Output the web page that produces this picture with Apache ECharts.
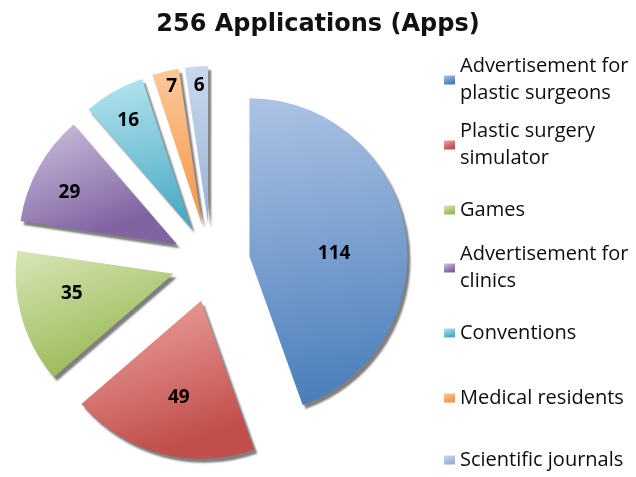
<!DOCTYPE html>
<html lang="en">
<head>
	<meta charset="UTF-8">
	<title>256 Applications (Apps)</title>
	<style>html,body{margin:0;padding:0;background:#fff;}</style>
</head>
<body>

	<div id="main" style="width: 636px;height: 477px"></div>

	<script src="https://cdn.jsdelivr.net/npm/echarts@6/dist/echarts.min.js"></script>
	<script type="text/javascript">

	// data
	var names = ['Advertisement for plastic surgeons', 'Plastic surgery simulator', 'Games',
		'Advertisement for clinics', 'Conventions', 'Medical residents', 'Scientific journals'];
	var legendText = ['Advertisement for\nplastic surgeons', 'Plastic surgery\nsimulator', 'Games',
		'Advertisement for\nclinics', 'Conventions', 'Medical residents', 'Scientific journals'];
	var values = [114, 49, 35, 29, 16, 7, 6];

	// colours (light top -> dark bottom)
	var lightColors = ['#adc3e4', '#eea8a6', '#d9e6b8', '#cfc2de', '#b8e4f0', '#fbc99c', '#cad8ec'];
	var darkColors  = ['#4a7ebb', '#c24f4b', '#9bbb59', '#8064a2', '#4bacc6', '#f79646', '#95b3d7'];

	// layout helpers
	var legendLineY = [80, 145, 210, 268, 333, 398, 460];   // y of first text line of each legend item
	var labelPush = [6, 25, 26, 44, 53, 71, 67];             // extra outward shift of value labels
	var labelNudgeX = [0, 7, 4, 5, 5, 7, 4];
	var labelNudgeY = [16, -3, -6, 13, 13, 14, 14];
	var font = 'Open Sans';
	var LH = 27;

	var total = 0;
	for (var i = 0; i < values.length; i++) total += values[i];
	var mid = [];
	var acc = 0;
	for (var i = 0; i < values.length; i++) {
		mid.push((acc + values[i] / 2) / total * Math.PI * 2);
		acc += values[i];
	}

	var legends = [];
	for (var i = 0; i < names.length; i++) {
		var lines = legendText[i].split('\n').length;
		var pad = (lines - 1) * LH;
		var boxH = lines * LH + pad;
		legends.push({
			orient: 'vertical',
			left: 444,
			top: legendLineY[i] - boxH / 2,
			padding: 0,
			itemWidth: 11,
			itemHeight: 9,
			icon: 'rect',
			selectedMode: false,
			data: [names[i]],
			formatter: (function (t) { return function () { return t; }; })(legendText[i]),
			textStyle: { fontFamily: font, fontSize: 20, color: '#0d0d0d', lineHeight: LH, padding: [pad, 0, 0, 0] }
		});
	}

	var pieData = [];
	for (var i = 0; i < values.length; i++) {
		pieData.push({
			name: names[i],
			value: values[i],
			selected: true,
			itemStyle: {
				color: {
					type: 'linear', x: 0, y: 0, x2: 0.3, y2: 1,
					colorStops: [{ offset: 0, color: lightColors[i] }, { offset: 1, color: darkColors[i] }]
				}
			}
		});
	}

	var myChart = echarts.init(document.getElementById('main'));

	var option = {
		animation: false,
		title: {
			text: '256 Applications (Apps)',
			left: 'center',
			top: 8,
			textStyle: { fontFamily: 'DejaVu Sans', fontSize: 24, fontWeight: 'bold', color: '#111' }
		},
		legend: legends,
		series: [{
			type: 'pie',
			center: [211, 263],
			radius: [0, 158],
			startAngle: 90,
			clockwise: true,
			selectedMode: 'multiple',
			selectedOffset: 39,
			avoidLabelOverlap: false,
			label: {
				show: true,
				position: 'inside',
				formatter: '{c}',
				fontFamily: font,
				fontSize: 19,
				fontWeight: 'bold',
				color: '#000'
			},
			labelLine: { show: false },
			labelLayout: function (p) {
				var k = p.dataIndex;
				return {
					dx: labelPush[k] * Math.sin(mid[k]) + labelNudgeX[k] - 2,
					dy: -labelPush[k] * Math.cos(mid[k]) + labelNudgeY[k] - 4
				};
			},
			itemStyle: {
				shadowBlur: 2,
				shadowOffsetX: 3,
				shadowOffsetY: 4,
				shadowColor: 'rgba(0,0,0,0.5)'
			},
			emphasis: { scale: false },
			data: pieData
		}]
	};
	myChart.setOption(option);
	</script>

</body>
</html>
